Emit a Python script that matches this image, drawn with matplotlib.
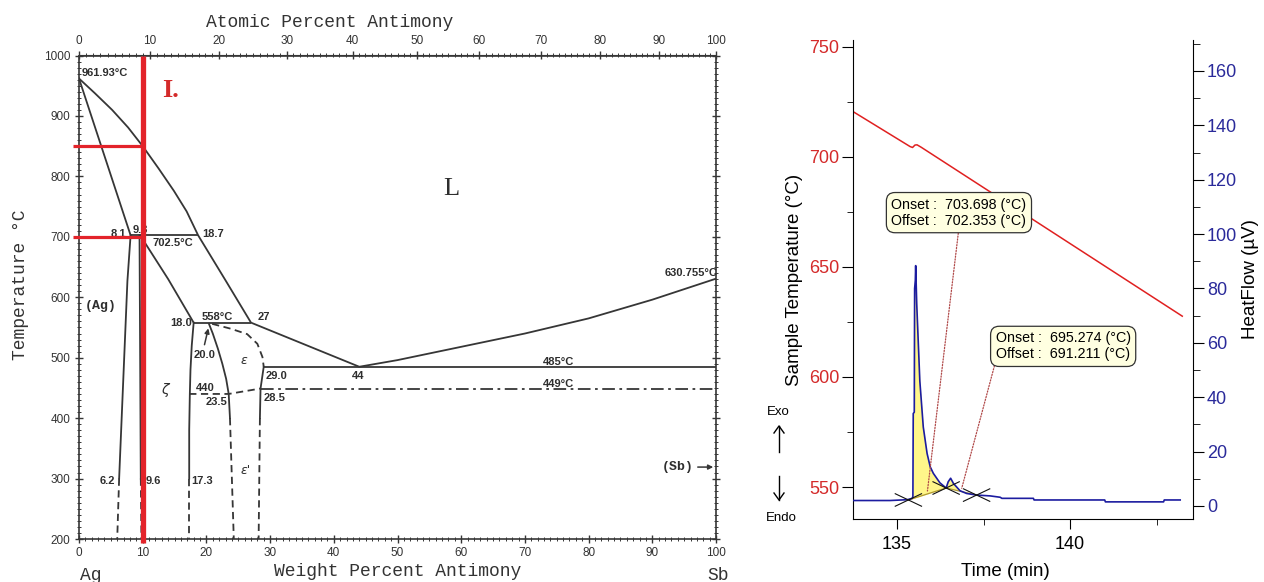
import numpy as np
import matplotlib.pyplot as plt
from matplotlib.ticker import MultipleLocator

# ----------------------------------------------------------
# Ag-Sb phase diagram data (weight % Sb, °C)
# ----------------------------------------------------------
M_AG = 107.87
M_SB = 121.76

liquidus_wt = [0, 2.5, 5.2, 7.7, 10, 12.5, 14.9, 16.9, 18.7, 23.0, 27, 35.5, 44, 50, 60, 70, 80, 90, 100]
liquidus_t = [961.93, 937.5, 910, 881, 850, 813, 776, 742, 702.5, 628, 558, 521.5, 485, 496, 518, 540, 565, 596, 630.755]

ag_solidus_wt = [0, 8.1]
ag_solidus_t = [961.93, 702.5]
ag_solvus_wt = [8.1, 7.6, 6.3]
ag_solvus_t = [702.5, 627, 300]
ag_solvus_low_wt = [6.3, 6.0]
ag_solvus_low_t = [300, 200]

zeta_left_wt = [9.5, 9.7]
zeta_left_t = [702.5, 300]
zeta_left_low_wt = [9.7, 9.8]
zeta_left_low_t = [300, 200]
zeta_solidus_wt = [9.6, 14.0, 18.0]
zeta_solidus_t = [702.5, 630, 558]
zeta_right_wt = [18.0, 17.7, 17.5, 17.4, 17.3, 17.3]
zeta_right_t = [558, 520, 480, 440, 380, 300]
zeta_right_low_wt = [17.3, 17.3]
zeta_right_low_t = [300, 200]

eps_left_wt = [20.4, 21.0, 21.8, 22.5, 23.1, 23.5, 23.7]
eps_left_t = [556, 540, 515, 490, 465, 440, 400]
eps_left_low_wt = [23.7, 24.0, 24.3]
eps_left_low_t = [400, 300, 200]
eps_right_wt = [20.9, 23.8, 26.4, 28.0, 28.8, 29.0]
eps_right_t = [556, 548, 539, 523, 501, 485]
eps2_right_wt = [29.0, 28.5, 28.4]
eps2_right_t = [485, 449, 400]
eps2_right_low_wt = [28.4, 28.3, 28.2]
eps2_right_low_t = [400, 300, 200]

order_wt = [17.3, 23.5, 28.5]
order_t = [440, 440, 449]
eutectoid_wt = [28.5, 100]
eutectoid_t = [449, 449]

# horizontal invariant lines: (start wt, end wt, temperature)
iso_start = [8.1, 18.0, 29.0]
iso_end = [18.7, 27.0, 100]
iso_temp = [702.5, 558, 485]

# red construction lines (alloy I.)
alloy_wt = 10
alloy_temps = [850, 700]

# point labels: text, wt, T, alignment
labels_txt = ["961.93°C", "8.1", "9.3", "18.7", "702.5°C", "18.0", "558°C", "27", "20.0",
              "440", "23.5", "29.0", "28.5", "44", "485°C", "449°C", "630.755°C",
              "6.2", "9.6", "17.3"]
labels_wt = [0.4, 7.4, 8.4, 19.3, 11.6, 17.8, 19.3, 28.0, 18.0,
             18.3, 23.3, 29.3, 29.0, 43.8, 72.9, 72.9, 100.3,
             5.7, 10.5, 17.7]
labels_t = [971, 704, 712, 704, 690, 557, 567, 568, 504,
            450, 427, 469, 434, 469, 493, 457, 640,
            296, 296, 296]
labels_ha = ["left", "right", "left", "left", "left", "right", "left", "left", "left",
             "left", "right", "left", "left", "center", "left", "left", "right",
             "right", "left", "left"]

bottom_ticks = list(range(0, 101, 10))
left_ticks = list(range(200, 1001, 100))
top_ticks = list(range(0, 101, 10))

# ----------------------------------------------------------
# DSC data
# ----------------------------------------------------------
time_temp = [133.73, 135.38, 135.45, 135.52, 135.58, 135.70, 143.24]
sample_temp = [720.5, 704.6, 704.2, 705.3, 705.4, 704.3, 627.6]

time_hf = [133.74, 134.8, 135.30, 135.44, 135.46, 135.47, 135.50, 135.51, 135.53, 135.54,
           135.55, 135.57, 135.66, 135.76, 135.87, 135.96, 136.05, 136.24, 136.42, 136.48,
           136.55, 136.63, 136.82, 137.01, 137.30, 137.69, 137.98, 138.03, 138.94, 138.96,
           141.0, 141.02, 142.70, 142.72, 143.18]
heat_flow = [2.0, 2.0, 2.3, 2.8, 3.5, 34.0, 34.5, 80.0, 83.0, 88.4,
             84.0, 74.5, 46.0, 29.0, 19.3, 14.4, 12.0, 8.5, 6.6, 8.9,
             10.2, 8.3, 5.6, 4.6, 4.0, 3.7, 3.2, 2.8, 2.8, 2.2,
             2.2, 1.5, 1.5, 2.2, 2.2]

# peak integration limits and baseline levels
peak_t0 = [135.33, 136.42]
peak_t1 = [136.42, 137.30]
peak_h0 = [2.2, 6.6]
peak_h1 = [6.6, 4.0]

# tangent crossings
cross_t = [135.33, 136.42, 137.30]
cross_hf = [2.2, 6.6, 4.0]

onset_texts = ["Onset :  703.698 (°C)\nOffset :  702.353 (°C)",
               "Onset :  695.274 (°C)\nOffset :  691.211 (°C)"]
onset_box_t = [136.79, 139.80]
onset_box_hf = [107.9, 58.7]
onset_point_t = [135.88, 136.87]
onset_point_hf = [5.5, 6.5]


def wt_to_at(w):
    w = np.asarray(w, dtype=float)
    with np.errstate(divide="ignore", invalid="ignore"):
        a = w / M_SB
        b = (100 - w) / M_AG
        return 100 * a / (a + b)


def at_to_wt(x):
    x = np.asarray(x, dtype=float)
    with np.errstate(divide="ignore", invalid="ignore"):
        a = x * M_SB
        b = (100 - x) * M_AG
        return 100 * a / (a + b)


fig = plt.figure(figsize=(12.64, 5.82), dpi=100)

# ----------------------------------------------------------
# Left: phase diagram
# ----------------------------------------------------------
ax = fig.add_axes([79 / 1264, 43 / 582, 637 / 1264, 483.5 / 582])
LINE = "#363636"
LW = 1.3
DASH = (0, (4, 2.5))
DASHDOT = (0, (7, 2.5, 1.5, 2.5))

ax.plot(liquidus_wt, liquidus_t, color=LINE, lw=LW)
ax.plot(ag_solidus_wt, ag_solidus_t, color=LINE, lw=LW)
ax.plot(ag_solvus_wt, ag_solvus_t, color=LINE, lw=LW)
ax.plot(ag_solvus_low_wt, ag_solvus_low_t, color=LINE, lw=LW, ls=DASH)
ax.plot(zeta_left_wt, zeta_left_t, color=LINE, lw=LW)
ax.plot(zeta_left_low_wt, zeta_left_low_t, color=LINE, lw=LW, ls=DASH)
ax.plot(zeta_solidus_wt, zeta_solidus_t, color=LINE, lw=LW)
ax.plot(zeta_right_wt, zeta_right_t, color=LINE, lw=LW)
ax.plot(zeta_right_low_wt, zeta_right_low_t, color=LINE, lw=LW, ls=DASH)
ax.plot(eps_left_wt, eps_left_t, color=LINE, lw=LW)
ax.plot(eps_left_low_wt, eps_left_low_t, color=LINE, lw=LW, ls=DASH)
ax.plot(eps_right_wt, eps_right_t, color=LINE, lw=LW, ls=DASH)
ax.plot(eps2_right_wt, eps2_right_t, color=LINE, lw=LW)
ax.plot(eps2_right_low_wt, eps2_right_low_t, color=LINE, lw=LW, ls=DASH)
ax.plot(order_wt, order_t, color=LINE, lw=LW, ls=DASH)
ax.plot(eutectoid_wt, eutectoid_t, color=LINE, lw=LW, ls=DASHDOT)
ax.hlines(iso_temp, iso_start, iso_end, color=LINE, lw=LW)

# red construction for alloy I.
ax.plot([alloy_wt, alloy_wt], [193, 1000], color="#e3232a", lw=3.8,
        solid_capstyle="butt", clip_on=False, zorder=6)
ax.hlines(alloy_temps, -1.0, alloy_wt, color="#e3232a", lw=2.3, clip_on=False, zorder=6)
ax.text(13.0, 942, "I.", color="#d42a2a", fontsize=19, fontweight="bold",
        family="Liberation Serif", ha="left", va="center")

for txt, w, t, ha in zip(labels_txt, labels_wt, labels_t, labels_ha):
    ax.text(w, t, txt, fontsize=8, fontweight="bold", color="#2e2e2e",
            family="Liberation Sans", ha=ha, va="center", zorder=4)

ax.annotate("", xy=(20.4, 553), xytext=(19.6, 517),
            arrowprops=dict(arrowstyle="-|>", color=LINE, lw=1.1, mutation_scale=7))
ax.annotate("", xy=(100, 319), xytext=(96.7, 319),
            arrowprops=dict(arrowstyle="-|>", color=LINE, lw=1.1, mutation_scale=7))

ax.text(58.4, 779, "L", fontsize=19, family="Liberation Serif", color="#2e2e2e",
        ha="center", va="center")
ax.text(0.9, 585, "(Ag)", fontsize=9.5, family="Liberation Mono", fontweight="bold",
        color="#2e2e2e", ha="left", va="center")
ax.text(96.5, 319, "(Sb)", fontsize=9.5, family="Liberation Mono", fontweight="bold",
        color="#2e2e2e", ha="right", va="center")
ax.text(13.5, 446, "ζ", fontsize=10, style="italic", color="#2e2e2e", ha="center", va="center")
ax.text(25.9, 495, "ε", fontsize=9, style="italic", color="#2e2e2e", ha="center", va="center")
ax.text(25.4, 314, "ε'", fontsize=9, style="italic", color="#2e2e2e", ha="left", va="center")

ax.set_xlim(0, 100)
ax.set_ylim(200, 1000)
ax.set_xticks(bottom_ticks)
ax.set_yticks(left_ticks)
ax.xaxis.set_minor_locator(MultipleLocator(1))
ax.yaxis.set_minor_locator(MultipleLocator(10))
ax.tick_params(which="both", direction="inout", right=True, color=LINE,
               labelsize=8.5, labelcolor="#333333", pad=3)
ax.tick_params(which="major", length=6, width=1)
ax.tick_params(which="minor", length=3, width=0.7)
for lab in ax.get_xticklabels() + ax.get_yticklabels():
    lab.set_family("Liberation Sans")
for sp in ax.spines.values():
    sp.set_color(LINE)
    sp.set_linewidth(1.2)

secax = ax.secondary_xaxis("top", functions=(wt_to_at, at_to_wt))
secax.set_xticks(top_ticks)
secax.xaxis.set_minor_locator(MultipleLocator(1))
secax.tick_params(which="both", direction="inout", color=LINE, labelsize=8.5,
                  labelcolor="#333333", pad=3)
secax.tick_params(which="major", length=6, width=1)
secax.tick_params(which="minor", length=3, width=0.7)
for lab in secax.get_xticklabels():
    lab.set_family("Liberation Sans")
secax.spines["top"].set_color(LINE)

mono = dict(family="Liberation Mono", fontsize=13, color="#333333")
ax.text(0.394, 1.068, "Atomic Percent Antimony", transform=ax.transAxes,
        ha="center", va="center", **mono)
ax.text(0.5, -0.068, "Weight Percent Antimony", transform=ax.transAxes,
        ha="center", va="center", **mono)
ax.text(-0.092, 0.526, "Temperature °C", transform=ax.transAxes, rotation=90,
        ha="center", va="center", **mono)
ax.text(1.9, 140, "Ag", ha="center", va="center", clip_on=False, **mono)
ax.text(100.3, 140, "Sb", ha="center", va="center", clip_on=False, **mono)

# ----------------------------------------------------------
# Right: DSC curve
# ----------------------------------------------------------
ax2 = fig.add_axes([853 / 1264, 63 / 582, 340 / 1264, 479 / 582])
ax3 = ax2.twinx()

ax2.plot(time_temp, sample_temp, color="#e02020", lw=1.1)
ax2.set_xlim(133.73, 143.55)
ax2.set_ylim(535.5, 753)

t_arr = np.array(time_hf)
h_arr = np.array(heat_flow)
for t0, t1, h0, h1 in zip(peak_t0, peak_t1, peak_h0, peak_h1):
    inside = (t_arr > t0) & (t_arr < t1)
    tt = np.concatenate([[t0], t_arr[inside], [t1]])
    hh = np.interp(tt, t_arr, h_arr)
    base = np.interp(tt, [t0, t1], [h0, h1])
    ax3.fill_between(tt, base, hh, where=hh >= base, interpolate=True,
                     color="#fff68a", lw=0, zorder=1)
    ax3.plot([t0, t1], [h0, h1], color="#b09a30", lw=0.9, zorder=2)

ax3.plot(time_hf, heat_flow, color="#1c1ca0", lw=1.2, zorder=3)

for ct, ch in zip(cross_t, cross_hf):
    ax3.plot([ct - 0.38, ct + 0.38], [ch + 2.3, ch - 2.3], color="#111111", lw=0.8, zorder=4)
    ax3.plot([ct - 0.38, ct + 0.38], [ch - 2.3, ch + 2.3], color="#111111", lw=0.8, zorder=4)

relpos = [(0.5, 0.0), (0.0, 0.0)]
for txt, bt, bh, pt, ph, rp in zip(onset_texts, onset_box_t, onset_box_hf,
                                   onset_point_t, onset_point_hf, relpos):
    ax3.annotate(txt, xy=(pt, ph), xytext=(bt, bh), fontsize=10.3, family="Liberation Sans",
                 ha="center", va="center", multialignment="left", zorder=6,
                 bbox=dict(boxstyle="round,pad=0.35,rounding_size=0.6", fc="#ffffe1",
                           ec="#333333", lw=0.9),
                 arrowprops=dict(arrowstyle="-", ls=(0, (1, 1.3)), color="#b04848",
                                 lw=0.9, relpos=rp, shrinkA=0, shrinkB=0))

ax3.set_ylim(-4.8, 171.4)

ax2.spines["top"].set_visible(False)
ax2.spines["right"].set_visible(False)
ax3.spines["top"].set_visible(False)
ax3.spines["left"].set_visible(False)
ax3.spines["bottom"].set_visible(False)

ax2.set_xticks([135, 140])
ax2.xaxis.set_minor_locator(MultipleLocator(2.5))
ax2.set_yticks([550, 600, 650, 700, 750])
ax2.yaxis.set_minor_locator(MultipleLocator(25))
ax3.set_yticks(list(range(0, 161, 20)))
ax3.yaxis.set_minor_locator(MultipleLocator(10))

ax2.tick_params(axis="x", which="major", length=7, labelsize=13, pad=5)
ax2.tick_params(axis="x", which="minor", length=4)
ax2.tick_params(axis="y", which="major", length=8, labelsize=13, labelcolor="#d42a2a", pad=2)
ax2.tick_params(axis="y", which="minor", length=4)
ax3.tick_params(axis="y", which="major", length=8, labelsize=13, labelcolor="#2a2a9a", pad=2)
ax3.tick_params(axis="y", which="minor", length=5)
for lab in ax2.get_xticklabels() + ax2.get_yticklabels() + ax3.get_yticklabels():
    lab.set_family("Liberation Sans")

ax2.set_xlabel("Time (min)", fontsize=13.5, family="Liberation Sans")
ax2.xaxis.set_label_coords(0.447, -0.092)
ax2.set_ylabel("Sample Temperature (°C)", fontsize=13.5, family="Liberation Sans")
ax2.yaxis.set_label_coords(-0.147, 0.50)
ax3.set_ylabel("HeatFlow (µV)", fontsize=13.5, family="Liberation Sans", rotation=90)
ax3.yaxis.set_label_coords(1.145, 0.50)

# Exo / Endo marker
fig.text(778 / 1264, 1 - 412 / 582, "Exo", fontsize=9.5, family="Liberation Sans",
         ha="center", va="center")
fig.text(781 / 1264, 1 - 518 / 582, "Endo", fontsize=9.5, family="Liberation Sans",
         ha="center", va="center")
fig.add_artist(plt.Line2D([779 / 1264, 779 / 1264], [1 - 452 / 582, 1 - 426 / 582],
                          color="black", lw=1))
fig.add_artist(plt.Line2D([779 / 1264, 779 / 1264], [1 - 476 / 582, 1 - 500 / 582],
                          color="black", lw=1))
fig.add_artist(plt.Line2D([774 / 1264, 779 / 1264, 784 / 1264],
                          [1 - 433 / 582, 1 - 426 / 582, 1 - 433 / 582], color="black", lw=1))
fig.add_artist(plt.Line2D([774 / 1264, 779 / 1264, 784 / 1264],
                          [1 - 493 / 582, 1 - 500 / 582, 1 - 493 / 582], color="black", lw=1))

fig.savefig("out.png", dpi=100)
